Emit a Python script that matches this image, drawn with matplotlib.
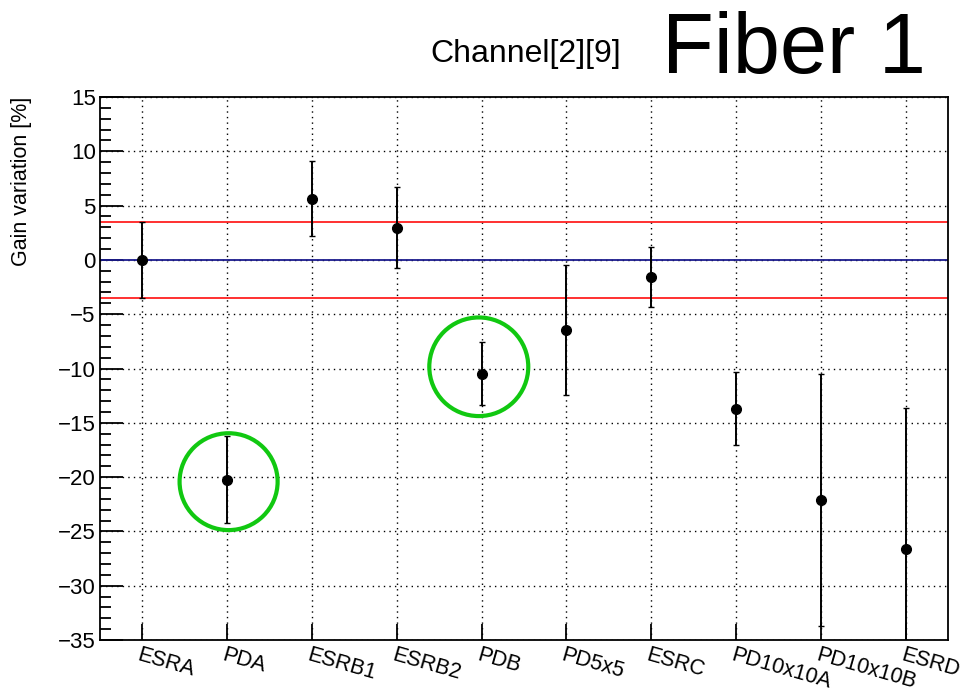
import matplotlib.pyplot as plt
from matplotlib.patches import Ellipse
from matplotlib.ticker import MultipleLocator

plt.rcParams['font.family'] = ['Liberation Sans', 'DejaVu Sans']

# gain variation per reference sample
samples = ["ESRA", "PDA", "ESRB1", "ESRB2", "PDB",
           "PD5x5", "ESRC", "PD10x10A", "PD10x10B", "ESRD"]
gain_var = [0.0, -20.25, 5.65, 2.98, -10.49, -6.46, -1.54, -13.7, -22.08, -26.6]
gain_err = [3.5, 4.0, 3.43, 3.7, 2.9, 5.97, 2.76, 3.35, 11.6, 12.95]

tolerance = 3.5  # +/- band drawn in red

# highlighted samples: (x centre, y centre, width, height) in data units
highlights = [(1.517, -20.42, 1.156, 8.92),
              (4.467, -9.84, 1.167, 9.08)]

fig = plt.figure(figsize=(9.61, 6.91), dpi=100)
ax = fig.add_axes([0.104, 0.0738, 0.8825, 0.7858])

xpos = [i + 0.5 for i in range(len(samples))]

ax.set_xlim(0, len(samples))
ax.set_ylim(-35, 15)

# grid
ax.set_xticks(xpos)
ax.yaxis.set_major_locator(MultipleLocator(5))
ax.yaxis.set_minor_locator(MultipleLocator(1))
ax.grid(True, which='major', color='black', linestyle=(0, (1, 3)), linewidth=1.0)
ax.set_axisbelow(True)

ax.axhline(tolerance, color='#ff2020', lw=1.3, zorder=2)
ax.axhline(-tolerance, color='#ff2020', lw=1.3, zorder=2)
ax.axhline(0, color='#1a1a8c', lw=1.3, zorder=2)

ax.errorbar(xpos, gain_var, yerr=gain_err, fmt='o', color='black',
            markersize=7, elinewidth=1.4, capsize=2, capthick=1.0, zorder=3)

for cx, cy, w, h in highlights:
    ax.add_patch(Ellipse((cx, cy), w, h, fill=False, edgecolor='#11c811',
                         lw=3, zorder=4))

# axes style
for s in ax.spines.values():
    s.set_linewidth(1.3)
ax.tick_params(axis='y', which='major', direction='in', length=16.5, width=1.3,
               labelsize=16, pad=3)
ax.tick_params(axis='y', which='minor', direction='in', length=8, width=1.3)
ax.tick_params(axis='x', which='major', direction='in', length=11.5, width=1.3)
ax.set_xticklabels([])

for x, name in zip(xpos, samples):
    ax.annotate(name, xy=(x, 0), xycoords=('data', 'axes fraction'),
                xytext=(-1, -3), textcoords='offset points',
                rotation=-16, rotation_mode='anchor', ha='left', va='top',
                fontsize=15.5)

ax.text(-0.092, 1.0, "Gain variation [%]", transform=ax.transAxes,
        rotation=90, ha='center', va='top', fontsize=15.5)

fig.text(430 / 961, 1 - 62 / 691, "Channel[2][9]", fontsize=23,
         ha='left', va='baseline')
fig.text(662 / 961, 1 - 73 / 691, "Fiber 1", fontsize=61,
         ha='left', va='baseline')

fig.savefig("out.png", dpi=100)
